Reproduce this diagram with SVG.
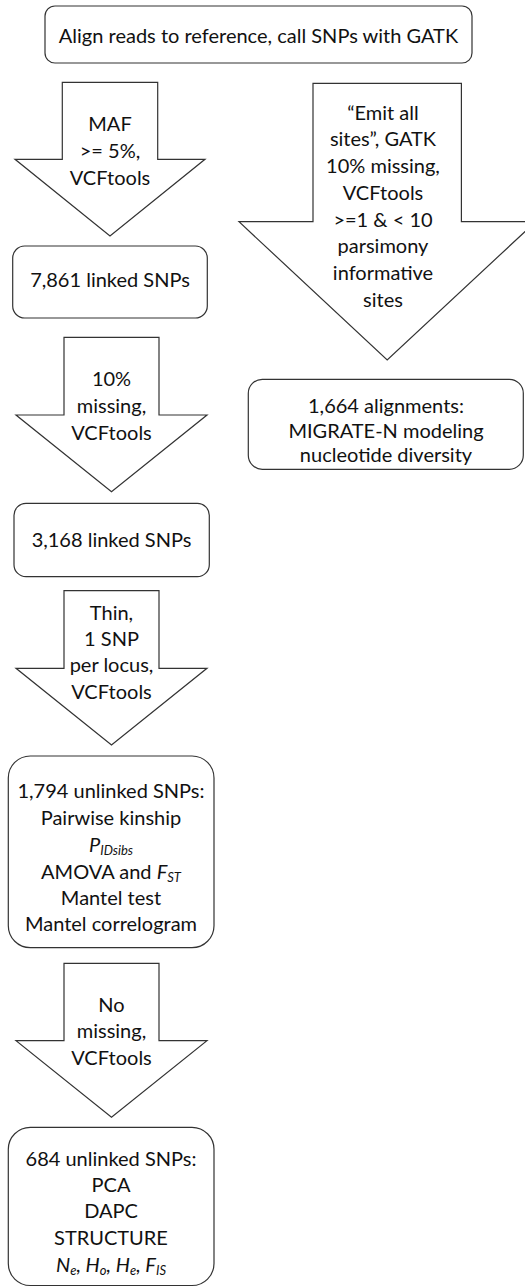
<svg xmlns="http://www.w3.org/2000/svg" width="525" height="1288" viewBox="0 0 525 1288">
<style>
.shape{fill:#ffffff;stroke:#333333;stroke-width:1.2}
.t{font-family:Lato,"Open Sans","Liberation Sans",sans-serif;font-size:20px;fill:#111111;text-anchor:middle}
.i{font-style:italic}
.sub{font-size:13px;font-style:italic}
</style>
<rect width="525" height="1288" fill="#ffffff"/>
<g id="connectors">
<polygon id="arrow-maf" class="shape" points="62.3,82.3 157.7,82.3 157.7,159.3 205,159.3 110,236 15,159.3 62.3,159.3"/>
<polygon id="arrow-missing10" class="shape" points="64,337.3 159,337.3 159,415 207,415 111.5,491.7 16,415 64,415"/>
<polygon id="arrow-thin" class="shape" points="64,590.7 159,590.7 159,668.3 207,668.3 111.5,745 16,668.3 64,668.3"/>
<polygon id="arrow-nomissing" class="shape" points="64,963.3 159,963.3 159,1040.7 207,1040.7 111.5,1117.3 16,1040.7 64,1040.7"/>
<polygon id="arrow-emit" class="shape" points="313,83.3 461.4,83.3 461.4,221.7 535.6,221.7 387.2,360 239,221.7 313,221.7"/>
<text class="t"><tspan x="110" y="131">MAF</tspan><tspan x="110" y="158">&gt;= 5%,</tspan><tspan x="110" y="184.5">VCFtools</tspan></text>
<text class="t"><tspan x="111.5" y="386">10%</tspan><tspan x="111.5" y="413">missing,</tspan><tspan x="111.5" y="440">VCFtools</tspan></text>
<text class="t"><tspan x="111.5" y="620">Thin,</tspan><tspan x="111.5" y="645.5">1 SNP</tspan><tspan x="111.5" y="672">per locus,</tspan><tspan x="111.5" y="698.5">VCFtools</tspan></text>
<text class="t"><tspan x="111.5" y="1011.7">No</tspan><tspan x="111.5" y="1038.3">missing,</tspan><tspan x="111.5" y="1065">VCFtools</tspan></text>
<text class="t"><tspan x="383" y="119.5">“Emit all</tspan><tspan x="383" y="146.3">sites”, GATK</tspan><tspan x="383" y="173">10% missing,</tspan><tspan x="383" y="199.8">VCFtools</tspan><tspan x="383" y="226.5">&gt;=1 &amp; &lt; 10</tspan><tspan x="383" y="253.3">parsimony</tspan><tspan x="383" y="280">informative</tspan><tspan x="383" y="306.8">sites</tspan></text>
</g>
<g id="node-align">
<rect class="shape" x="45" y="6" width="427" height="57" rx="10"/>
<text class="t" x="258.5" y="43">Align reads to reference, call SNPs with GATK</text>
</g>
<g id="node-7861">
<rect class="shape" x="12.7" y="246" width="194.6" height="72" rx="12"/>
<text class="t" x="110" y="287">7,861 linked SNPs</text>
</g>
<g id="node-3168">
<rect class="shape" x="14" y="503.3" width="195.3" height="73.4" rx="12"/>
<text class="t" x="111.5" y="546.7">3,168 linked SNPs</text>
</g>
<g id="node-1794">
<rect class="shape" x="8.3" y="756" width="205.7" height="191.7" rx="22"/>
<text class="t"><tspan x="111" y="798">1,794 unlinked SNPs:</tspan><tspan x="111" y="824.5">Pairwise kinship</tspan></text>
<text class="t" x="111" y="851.5"><tspan class="i">P</tspan><tspan class="sub" dy="3">IDsibs</tspan></text>
<text class="t" x="111" y="878.5">AMOVA and <tspan class="i">F</tspan><tspan class="sub" dy="3">ST</tspan></text>
<text class="t"><tspan x="111" y="905">Mantel test</tspan><tspan x="111" y="931">Mantel correlogram</tspan></text>
</g>
<g id="node-684">
<rect class="shape" x="8.3" y="1127.3" width="205.7" height="158.2" rx="22"/>
<text class="t"><tspan x="111" y="1166">684 unlinked SNPs:</tspan><tspan x="111" y="1191.7">PCA</tspan><tspan x="111" y="1218.3">DAPC</tspan><tspan x="111" y="1245">STRUCTURE</tspan></text>
<text class="t i" x="111" y="1271.7">N<tspan class="sub" dy="3">e</tspan><tspan dy="-3">, H</tspan><tspan class="sub" dy="3">o</tspan><tspan dy="-3">, H</tspan><tspan class="sub" dy="3">e</tspan><tspan dy="-3">, F</tspan><tspan class="sub" dy="3">IS</tspan></text>
</g>
<g id="node-1664">
<rect class="shape" x="248.3" y="379.3" width="275" height="90" rx="14"/>
<text class="t"><tspan x="386" y="413.3">1,664 alignments:</tspan><tspan x="386" y="438">MIGRATE-N modeling</tspan><tspan x="386" y="462">nucleotide diversity</tspan></text>
</g>
</svg>
